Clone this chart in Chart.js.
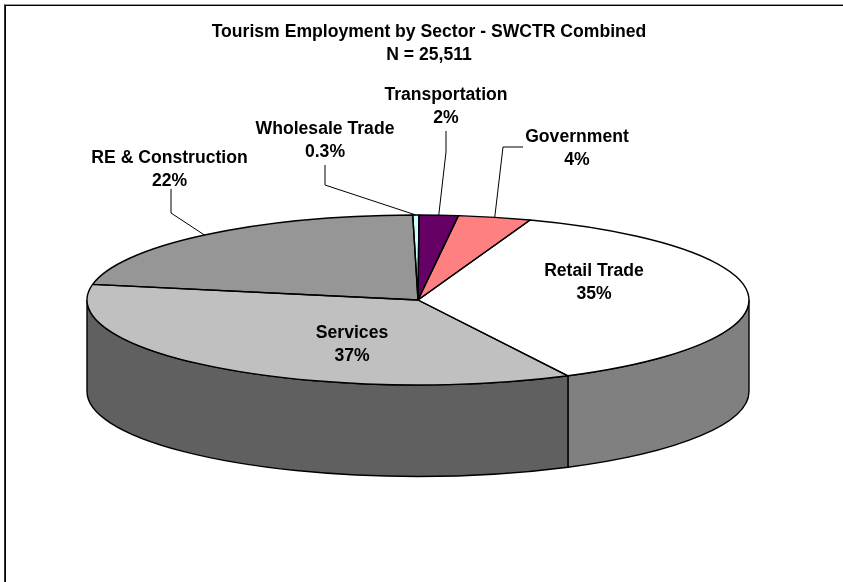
<!DOCTYPE html>
<html>
<head>
<meta charset="utf-8">
<title>Tourism Employment by Sector</title>
<script src="https://cdn.jsdelivr.net/npm/chart.js@4"></script>
<style>
    html, body { margin: 0; padding: 0; background: #fff; overflow: hidden; }
    #frame { position: absolute; left: 4px; top: 4px; width: 839px; height: 578px; border-top: 1px solid #999; border-left: 1px solid #333; box-shadow: inset 1px 1px 0 #000; box-sizing: border-box; }
    canvas { position: absolute; left: 0; top: 0; }
</style>
</head>
<body>
<div id="frame"></div>
<canvas id="sectorChart" width="843" height="582"></canvas>
<script>
// Sector names and the percentages printed on the chart
const sectors = ['Retail Trade', 'Services', 'RE & Construction', 'Wholesale Trade', 'Transportation', 'Government'];
const printedShares = ['35%', '37%', '22%', '0.3%', '2%', '4%'];
const sliceShares = [37.0, 35.4, 21.8, 0.3, 1.9, 3.55];
const titleLines = ['Tourism Employment by Sector - SWCTR Combined', 'N = 25,511'];

const topColors = ['#FFFFFF', '#C0C0C0', '#969696', '#CCFFFF', '#660066', '#FF8080'];
const wallColors = ['#808080', '#606060', '#4B4B4B', '#668080', '#330033', '#804040'];

// Pie geometry
const radiusX = 331;
const radiusY = 85;
const depth = 91.5;
const squash = radiusY / radiusX;
const lineGap = 22.6;

// Where each label sits, and the leader line from the rim (elbow then label end)
const labelSpots = [
    { x: 594, y: 271.5 },
    { x: 352, y: 333.5 },
    { x: 169.5, y: 158.5 },
    { x: 325, y: 129.5 },
    { x: 446, y: 95.5 },
    { x: 577, y: 137.5 }
];
const leaders = [
    null,
    null,
    { elbow: [171, 213], end: [171, 189] },
    { elbow: [325, 185], end: [325, 165] },
    { elbow: [446, 152], end: [446, 131] },
    { elbow: [503, 147], end: [523, 147] }
];

// Moves an arc's angle onto the ellipse rim
function rimPoint(arc, angle) {
    return [arc.x + Math.cos(angle) * radiusX, arc.y + Math.sin(angle) * radiusY];
}

// Squashes the library's pie into an ellipse and adds the side wall under it
const tiltedPie = {
    id: 'tiltedPie',
    beforeDatasetsDraw(chart) {
        const ctx = chart.ctx;
        const arcs = chart.getDatasetMeta(0).data;
        const cx = arcs[0].x;
        const cy = arcs[0].y;
        const twoPi = Math.PI * 2;

        // side wall, only the part of each slice facing the viewer
        arcs.forEach((arc, i) => {
            let from = arc.startAngle % twoPi;
            if (from < 0) from += twoPi;
            const to = from + (arc.endAngle - arc.startAngle);
            // the front half can be met once or, past a full turn, a second time
            [0, twoPi].forEach(turn => {
                const a = Math.max(from, turn);
                const b = Math.min(to, turn + Math.PI);
                if (b <= a) return;
                ctx.beginPath();
                ctx.ellipse(cx, cy, radiusX, radiusY, 0, a, b);
                ctx.ellipse(cx, cy + depth, radiusX, radiusY, 0, b, a, true);
                ctx.closePath();
                ctx.fillStyle = wallColors[i];
                ctx.fill();
                ctx.strokeStyle = '#000';
                ctx.lineWidth = 1.4;
                ctx.stroke();
            });
        });

        ctx.save();
        ctx.translate(cx, cy);
        ctx.scale(1, squash);
        ctx.translate(-cx, -cy);
    },
    afterDatasetsDraw(chart) {
        const ctx = chart.ctx;
        ctx.restore();
        const arcs = chart.getDatasetMeta(0).data;

        // outlines drawn after the restore so the pen stays round
        ctx.strokeStyle = '#000';
        ctx.lineWidth = 1.4;
        ctx.lineJoin = 'round';
        arcs.forEach(arc => {
            ctx.beginPath();
            ctx.moveTo(arc.x, arc.y);
            ctx.ellipse(arc.x, arc.y, radiusX, radiusY, 0, arc.startAngle, arc.endAngle);
            ctx.closePath();
            ctx.stroke();
        });

        // title, labels and leader lines
        ctx.lineWidth = 1;
        ctx.font = 'bold 17.6px "Liberation Sans", Arial, sans-serif';
        ctx.fillStyle = '#000';
        ctx.textAlign = 'center';
        ctx.textBaseline = 'middle';
        ctx.fillText(titleLines[0], 429, 32.5);
        ctx.fillText(titleLines[1], 429, 32.5 + lineGap);
        arcs.forEach((arc, i) => {
            const spot = labelSpots[i];
            ctx.fillText(sectors[i], spot.x, spot.y);
            ctx.fillText(printedShares[i], spot.x, spot.y + lineGap);
            const leader = leaders[i];
            if (leader) {
                const mid = (arc.startAngle + arc.endAngle) / 2;
                const rim = rimPoint(arc, mid);
                ctx.beginPath();
                ctx.moveTo(rim[0], rim[1]);
                ctx.lineTo(leader.elbow[0], leader.elbow[1]);
                ctx.lineTo(leader.end[0], leader.end[1]);
                ctx.stroke();
            }
        });
    }
};

const sectorChart = new Chart(document.getElementById('sectorChart').getContext('2d'), {
    type: 'pie',
    data: {
        labels: sectors,
        datasets: [{
            data: sliceShares,
            backgroundColor: topColors,
            borderWidth: 0,
            radius: radiusX
        }]
    },
    options: {
        responsive: false,
        animation: false,
        rotation: 19.8,
        layout: { padding: { top: 18, right: 7, bottom: 0, left: 0 } },
        plugins: {
            legend: { display: false },
            tooltip: { enabled: false }
        }
    },
    plugins: [tiltedPie]
});
</script>
</body>
</html>
